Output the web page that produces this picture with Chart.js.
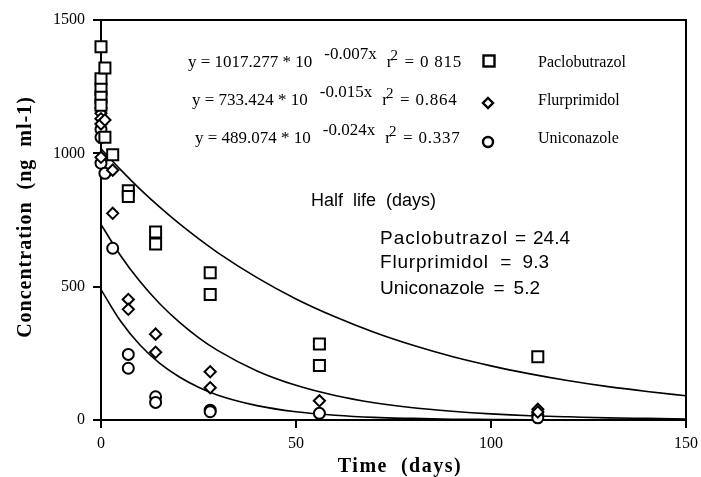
<!DOCTYPE html>
<html>
<head>
<meta charset="utf-8">
<script src="https://cdn.jsdelivr.net/npm/chart.js@4/dist/chart.umd.min.js"></script>
<style>
  body { margin: 0; background: #fff; }
  #wrap { width: 701px; height: 477px; }
</style>
</head>
<body>
<div id="wrap"><canvas id="chartContainer"></canvas></div>
<script>
// measured points (days, ng/ml)
const pacloX = [0, 0, 0, 0, 0, 1, 1, 3, 7, 7, 14, 14, 28, 28, 56, 56, 112];
const pacloY = [1400, 1280, 1240, 1210, 1180, 1320, 1060, 995, 860, 838, 705, 660, 552, 471, 285, 204, 237];
const flurX = [0, 0, 0, 0, 1, 0, 3, 3, 7, 7, 14, 14, 28, 28, 56, 112, 112];
const flurY = [1170, 1150, 1130, 1110, 1125, 985, 937, 775, 452, 415, 322, 254, 181, 121, 72, 40, 30];
const uniX = [0, 0, 0, 1, 3, 7, 7, 14, 14, 28, 28, 56, 112, 112];
const uniY = [1090, 1060, 963, 925, 644, 246, 194, 87, 66, 37, 31, 25, 20, 8];

// fitted decay curves
const curveX = [0, 5, 10, 15, 20, 25, 30, 40, 50, 60, 70, 80, 90, 100, 110, 120, 130, 140, 150];
const pacloFit = [1017, 939, 866, 799, 737, 680, 627, 534, 454, 387, 329, 280, 238, 203, 173, 147, 125, 107, 91];
const flurFit = [733, 617, 519, 437, 368, 309, 260, 184, 130, 92, 65, 46, 33, 23, 16, 12, 8, 6, 4];
const uniFit = [489, 371, 281, 213, 162, 123, 93, 54, 31, 18, 10, 6, 3, 2, 1, 1, 0, 0, 0];

const xTicks = [0, 50, 100, 150];
const yTicks = [0, 500, 1000, 1500];

const names = ['Paclobutrazol', 'Flurprimidol', 'Uniconazole'];
const equations = [
    ['y = 1017.277 * 10', '-0.007x', '0 815'],
    ['y = 733.424 * 10', '-0.015x', '0.864'],
    ['y = 489.074 * 10', '-0.024x', '0.337']
];
const halfLives = ['24.4', '9.3', '5.2'];

const toPoints = (xs, ys) => xs.map((x, i) => ({ x: x, y: ys[i] }));

function pointSet(label, data, style, radius) {
    return {
        label: label,
        data: data,
        showLine: false,
        pointStyle: style,
        pointRadius: radius,
        pointBorderWidth: 2,
        pointBorderColor: '#000',
        pointBackgroundColor: '#fff',
        clip: false
    };
}

function curveSet(data) {
    return {
        label: 'fit',
        data: data,
        showLine: true,
        pointRadius: 0,
        borderColor: '#000',
        borderWidth: 1.6,
        cubicInterpolationMode: 'monotone',
        fill: false
    };
}

const annotations = {
    id: 'annotations',
    afterDraw(chart) {
        const ctx = chart.ctx;
        const area = chart.chartArea;
        ctx.save();
        // frame top and right
        ctx.strokeStyle = '#000';
        ctx.lineWidth = 2;
        ctx.beginPath();
        ctx.moveTo(area.left - 8, area.top);
        ctx.lineTo(area.right, area.top);
        ctx.lineTo(area.right, area.bottom + 8);
        ctx.stroke();

        ctx.fillStyle = '#000';
        ctx.textBaseline = 'alphabetic';

        // axis titles
        ctx.font = 'bold 20px "Liberation Serif"';
        ctx.letterSpacing = '1.5px';
        ctx.textAlign = 'center';
        ctx.fillText('Time  (days)', 400, 472);
        ctx.save();
        ctx.translate(31, 217);
        ctx.rotate(-Math.PI / 2);
        ctx.font = 'bold 20px "Liberation Serif"';
        ctx.letterSpacing = '1px';
        ctx.fillText('Concentration  (ng  ml-1)', 0, 0);
        ctx.restore();
        ctx.textAlign = 'left';
        ctx.letterSpacing = '0px';

        // regression equations
        const rows = [67, 105, 143];
        const starts = [188, 192, 195];
        rows.forEach((by, i) => {
            let x = starts[i];
            ctx.font = '17px "Liberation Serif"';
            ctx.fillText(equations[i][0], x, by);
            x += ctx.measureText(equations[i][0]).width + 12;
            ctx.fillText(equations[i][1], x, by - 8);
            x += ctx.measureText(equations[i][1]).width + 10;
            ctx.fillText('r', x, by);
            x += ctx.measureText('r').width;
            ctx.font = '15px "Liberation Serif"';
            ctx.fillText('2', x - 2, by - 7);
            x += 7;
            ctx.font = '17px "Liberation Serif"';
            ctx.letterSpacing = '0.8px';
            ctx.fillText(' = ' + equations[i][2], x, by);
            ctx.letterSpacing = '0px';

            ctx.font = '16px "Liberation Serif"';
            ctx.fillText(names[i], 538, by);
        });

        // legend markers
        ctx.lineWidth = 2.4;
        ctx.strokeRect(483.5, 55.5, 11, 11);
        ctx.beginPath();
        ctx.moveTo(488, 98); ctx.lineTo(493, 103); ctx.lineTo(488, 108); ctx.lineTo(483, 103);
        ctx.closePath();
        ctx.stroke();
        ctx.beginPath();
        ctx.arc(488, 142, 5, 0, Math.PI * 2);
        ctx.stroke();

        // half life block
        ctx.font = '18px "Liberation Sans"';
        ctx.fillText('Half  life  (days)', 311, 206);
        ctx.font = '19px "Liberation Sans"';
        const hlRows = [244, 268, 294];
        const hlSpacing = ['1px', '0.8px', '0px'];
        const valEnd = [570, 549, 540];
        hlRows.forEach((by, i) => {
            ctx.letterSpacing = hlSpacing[i];
            ctx.textAlign = 'left';
            ctx.fillText(names[i], 380, by);
            const nameEnd = 380 + ctx.measureText(names[i]).width;
            ctx.letterSpacing = '0px';
            ctx.textAlign = 'right';
            ctx.fillText(halfLives[i], valEnd[i], by);
            const valStart = valEnd[i] - ctx.measureText(halfLives[i]).width;
            ctx.textAlign = 'center';
            ctx.fillText('=', (nameEnd + valStart) / 2, by);
        });
        ctx.restore();
    }
};

const ctx = document.getElementById('chartContainer');
window.myChart = new Chart(ctx, {
    type: 'scatter',
    data: {
        datasets: [
            pointSet(names[0], toPoints(pacloX, pacloY), 'rect', 7.8),
            pointSet(names[1], toPoints(flurX, flurY), 'rectRot', 5.6),
            pointSet(names[2], toPoints(uniX, uniY), 'circle', 5.5),
            curveSet(toPoints(curveX, pacloFit)),
            curveSet(toPoints(curveX, flurFit)),
            curveSet(toPoints(curveX, uniFit))
        ]
    },
    options: {
        responsive: true,
        maintainAspectRatio: false,
        animation: false,
        layout: { padding: { top: 20, right: 15, left: 0, bottom: 0 } },
        plugins: {
            legend: { display: false },
            tooltip: { enabled: false }
        },
        scales: {
            x: {
                type: 'linear',
                min: 0,
                max: 150,
                afterBuildTicks: s => { s.ticks = xTicks.map(v => ({ value: v })); },
                afterFit: s => { s.height = 57; s.paddingLeft = 0; s.paddingRight = 0; },
                grid: { drawOnChartArea: false, drawTicks: true, tickLength: 8, color: '#000', lineWidth: 2 },
                border: { color: '#000', width: 2 },
                ticks: {
                    color: '#000',
                    font: { family: 'Liberation Serif', size: 16 },
                    padding: 6,
                    callback: v => String(v)
                }
            },
            y: {
                type: 'linear',
                min: 0,
                max: 1500,
                afterBuildTicks: s => { s.ticks = yTicks.map(v => ({ value: v })); },
                afterFit: s => { s.width = 101; s.paddingTop = 0; s.paddingBottom = 0; },
                grid: { drawOnChartArea: false, drawTicks: true, tickLength: 8, color: '#000', lineWidth: 2 },
                border: { color: '#000', width: 2 },
                ticks: {
                    color: '#000',
                    font: { family: 'Liberation Serif', size: 16 },
                    padding: 8,
                    callback: v => String(v)
                }
            }
        }
    },
    plugins: [annotations]
});
</script>
</body>
</html>
